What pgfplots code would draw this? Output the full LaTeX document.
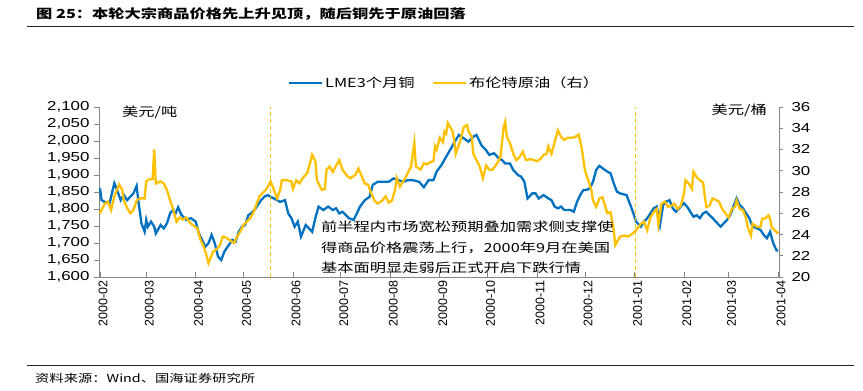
\documentclass[border=0pt]{standalone}
\usepackage{pgfplots}
\pgfplotsset{compat=1.18}
\usepackage{pgfplotstable}
\usepackage{fontspec}
\setmainfont{Liberation Sans}[FakeStretch=1.3]
\newfontfamily\rotfont{Liberation Sans}
\newfontfamily\cjk{Noto Sans CJK SC}[FakeStretch=1.3]
\definecolor{cu}{RGB}{0,112,192}
\definecolor{oil}{RGB}{255,192,0}
\definecolor{axgray}{RGB}{134,134,134}

\pgfplotstableread{
d v
0 1861
1 1826
3 1821
6 1816
9 1876
10 1865
13 1826
15 1841
17 1826
19 1836
21 1846
23 1868
24 1826
26 1758
28 1733
29 1768
30 1748
32 1763
34 1748
35 1728
38 1753
40 1743
42 1758
44 1788
46 1798
47 1783
49 1805
51 1783
54 1768
57 1773
60 1763
62 1728
64 1709
66 1689
68 1699
70 1724
72 1699
74 1660
76 1650
78 1675
80 1689
83 1709
85 1704
87 1733
89 1748
91 1753
93 1782
95 1788
97 1798
99 1812
101 1826
103 1836
105 1841
109 1831
113 1821
116 1826
118 1787
120 1773
122 1748
124 1763
126 1719
129 1753
131 1743
133 1733
135 1773
137 1807
140 1797
143 1807
146 1797
148 1802
150 1787
152 1792
156 1773
159 1768
161 1787
163 1807
166 1826
169 1836
171 1871
174 1880
178 1880
181 1880
184 1890
187 1885
190 1880
193 1885
196 1885
200 1880
203 1864
206 1885
209 1885
211 1910
214 1929
217 1954
220 1978
222 1995
225 2018
228 2008
231 1998
234 2013
236 2018
239 1988
242 1973
244 1959
247 1964
250 1949
252 1944
254 1934
257 1934
259 1915
262 1900
264 1895
266 1880
268 1831
271 1846
273 1846
275 1831
278 1841
281 1831
283 1826
285 1807
287 1802
289 1807
291 1797
295 1797
297 1792
299 1821
301 1841
303 1856
305 1856
307 1861
309 1880
311 1915
313 1927
315 1920
318 1910
320 1905
322 1876
324 1851
326 1846
330 1841
332 1817
334 1792
336 1763
339 1748
341 1763
343 1773
345 1787
347 1802
349 1807
351 1753
353 1812
355 1822
357 1826
359 1802
361 1792
363 1802
366 1817
368 1807
370 1792
372 1777
374 1782
376 1773
378 1787
380 1792
382 1782
384 1773
387 1758
389 1748
391 1758
393 1768
395 1782
397 1807
399 1831
401 1812
403 1802
405 1787
407 1773
409 1748
412 1743
414 1738
416 1724
418 1714
420 1733
422 1699
424 1679
425 1677
}\cutable

\pgfplotstableread{
d v
0 26.0
2 26.6
3 26.9
5 27.1
7 26.3
9 27.6
12 28.7
14 28.2
15 27.2
17 26.5
19 26.0
21 26.3
23 27.2
25 27.4
28 27.4
29 29.0
31 29.2
33 29.2
34 32.0
35 28.8
38 29.0
40 28.8
42 28.2
44 27.2
46 26.3
48 25.2
50 25.6
52 25.4
54 25.6
56 25.2
58 24.9
61 24.6
63 23.5
65 22.9
67 21.9
68 21.3
71 22.4
73 22.6
75 22.9
77 23.8
79 23.7
81 23.5
84 23.2
86 23.8
88 24.3
90 24.9
92 25.2
94 25.5
96 26.0
98 26.8
100 27.6
102 27.9
104 28.2
107 29.0
109 28.2
111 27.4
113 28.2
114 29.1
117 29.1
120 29.0
121 28.3
123 29.1
125 28.8
127 29.3
130 29.8
133 31.5
135 30.9
136 29.1
139 28.2
141 28.3
142 30.1
144 30.4
146 29.9
148 30.5
150 31.0
152 30.1
155 29.5
157 29.3
160 29.6
162 30.2
164 29.5
166 28.8
168 28.7
170 27.9
172 27.2
174 26.9
177 27.2
179 27.6
181 27.0
183 27.2
185 28.2
186 29.3
188 28.5
190 29.0
192 29.5
195 30.4
197 32.6
198 30.4
201 30.1
203 30.7
205 30.6
207 30.8
209 30.9
210 32.3
211 32.0
213 33.1
215 32.7
216 33.7
217 33.5
218 34.5
221 33.7
222 32.8
223 31.6
226 32.9
228 34.1
230 34.3
231 33.7
233 33.2
234 31.6
236 31.0
238 30.4
240 29.3
242 30.5
244 30.1
246 30.1
249 30.7
251 31.3
253 34.1
254 34.6
255 33.2
257 32.6
259 31.6
261 31.0
263 31.3
265 31.8
267 31.0
270 31.1
272 31.0
274 30.9
276 31.1
278 31.5
280 31.6
281 32.3
283 31.6
285 32.7
287 33.8
289 33.2
291 32.9
293 33.1
296 33.1
298 33.2
300 33.4
302 32.1
304 30.0
306 29.1
308 28.2
309 27.2
311 26.6
313 27.4
315 27.5
318 26.0
320 26.1
322 24.4
323 23.0
326 23.8
329 23.9
331 23.8
334 24.1
336 24.4
339 25.0
341 25.2
343 24.4
345 25.6
347 26.1
349 26.4
350 24.9
352 26.9
354 27.1
356 26.6
358 26.7
360 26.9
362 26.4
364 26.7
366 27.8
367 29.1
369 28.8
371 28.3
372 29.9
374 29.4
376 29.1
378 28.9
380 26.6
382 26.7
384 27.4
388 27.1
390 26.4
392 26.0
394 25.6
396 26.4
398 26.6
399 27.2
401 26.4
403 26.3
405 25.5
406 24.7
408 23.9
409 25.0
412 24.7
414 24.7
415 25.5
417 25.5
419 25.8
420 25.5
421 24.7
423 24.4
425 24.1
}\oiltable

\begin{document}
\begin{tikzpicture}[x=1bp,y=1bp]
\useasboundingbox (0,0) rectangle (863,390);
% title and source
\node[anchor=west, inner sep=0] at (36,376) {\cjk\bfseries\fontsize{12.5bp}{15bp}\selectfont 图 25：本轮大宗商品价格先上升见顶，随后铜先于原油回落};
\draw[line width=0.8bp, black!85] (27,364) -- (854,364);
\draw[line width=0.8bp, black!85] (27,25) -- (854,25);
\node[anchor=west, inner sep=0] at (35,12) {\cjk\fontsize{11bp}{13bp}\selectfont 资料来源：Wind、国海证券研究所};

\begin{axis}[
  at={(99bp,113bp)}, anchor=south west,
  scale only axis, width=680bp, height=170bp,
  xmin=-0.6, xmax=425.6, ymin=1600, ymax=2100,
  axis x line*=bottom, axis y line*=left,
  axis line style={axgray, line width=0.8bp, -},
  xtick={0,29,60,90,121,151,182,213,243,274,304,335,366,394,425},
  xticklabels={2000-02,2000-03,2000-04,2000-05,2000-06,2000-07,2000-08,2000-09,2000-10,2000-11,2000-12,2001-01,2001-02,2001-03,2001-04},
  xticklabel style={rotate=90, anchor=east, font=\rotfont\fontsize{12.5bp}{14bp}\selectfont, yshift=-3bp},
  ytick={1600,1650,...,2100},
  yticklabel style={font=\fontsize{13bp}{15bp}\selectfont, xshift=-6bp},
  /pgf/number format/1000 sep={,},
  /pgf/number format/assume math mode=true,
  major tick length=5bp,
  tick style={axgray, line width=0.8bp},
  ytick style={xshift=-5bp},
  tick align=inside,
]
\addplot[cu, line width=2.3bp] table[x=d,y=v] {\cutable};
\end{axis}

\begin{axis}[
  at={(99bp,113bp)}, anchor=south west,
  scale only axis, width=680bp, height=170bp,
  xmin=-0.6, xmax=425.6, ymin=20, ymax=36,
  axis x line=none, axis y line*=right,
  axis line style={axgray, line width=0.8bp, -},
  ytick={20,22,...,36},
  yticklabel style={font=\fontsize{13bp}{15bp}\selectfont, xshift=9bp},
  /pgf/number format/assume math mode=true,
  major tick length=4bp,
  tick style={axgray, line width=0.8bp},
  ytick style={xshift=4bp},
  tick align=inside,
]
\draw[oil, line width=1.2bp, dash pattern=on 4bp off 3bp] (axis cs:107,20) -- (axis cs:107,36);
\draw[oil, line width=1.2bp, dash pattern=on 4bp off 3bp] (axis cs:335.5,20) -- (axis cs:335.5,36);
\addplot[oil, line width=2.3bp] table[x=d,y=v] {\oiltable};
\end{axis}

% unit labels
\node[anchor=west, inner sep=0] at (122,278) {\cjk\fontsize{12.5bp}{14bp}\selectfont 美元/吨};
\node[anchor=east, inner sep=0] at (767,280) {\cjk\fontsize{12.5bp}{14bp}\selectfont 美元/桶};

% legend
\draw[cu, line width=2.3bp] (289,307) -- (322,307);
\node[anchor=west, inner sep=0] at (325,307) {\cjk\fontsize{12.5bp}{14bp}\selectfont LME3个月铜};
\draw[oil, line width=2.3bp] (433,307) -- (466,307);
\node[anchor=west, inner sep=0] at (469,307) {\cjk\fontsize{12.5bp}{14bp}\selectfont 布伦特原油（右）};

% annotation
\node[anchor=north west, inner sep=0, align=left, font={\cjk\fontsize{12.5bp}{20.5bp}\selectfont}] at (321,169) {前半程内市场宽松预期叠加需求侧支撑使\\得商品价格震荡上行，2000年9月在美国\\基本面明显走弱后正式开启下跌行情};
\end{tikzpicture}
\end{document}
